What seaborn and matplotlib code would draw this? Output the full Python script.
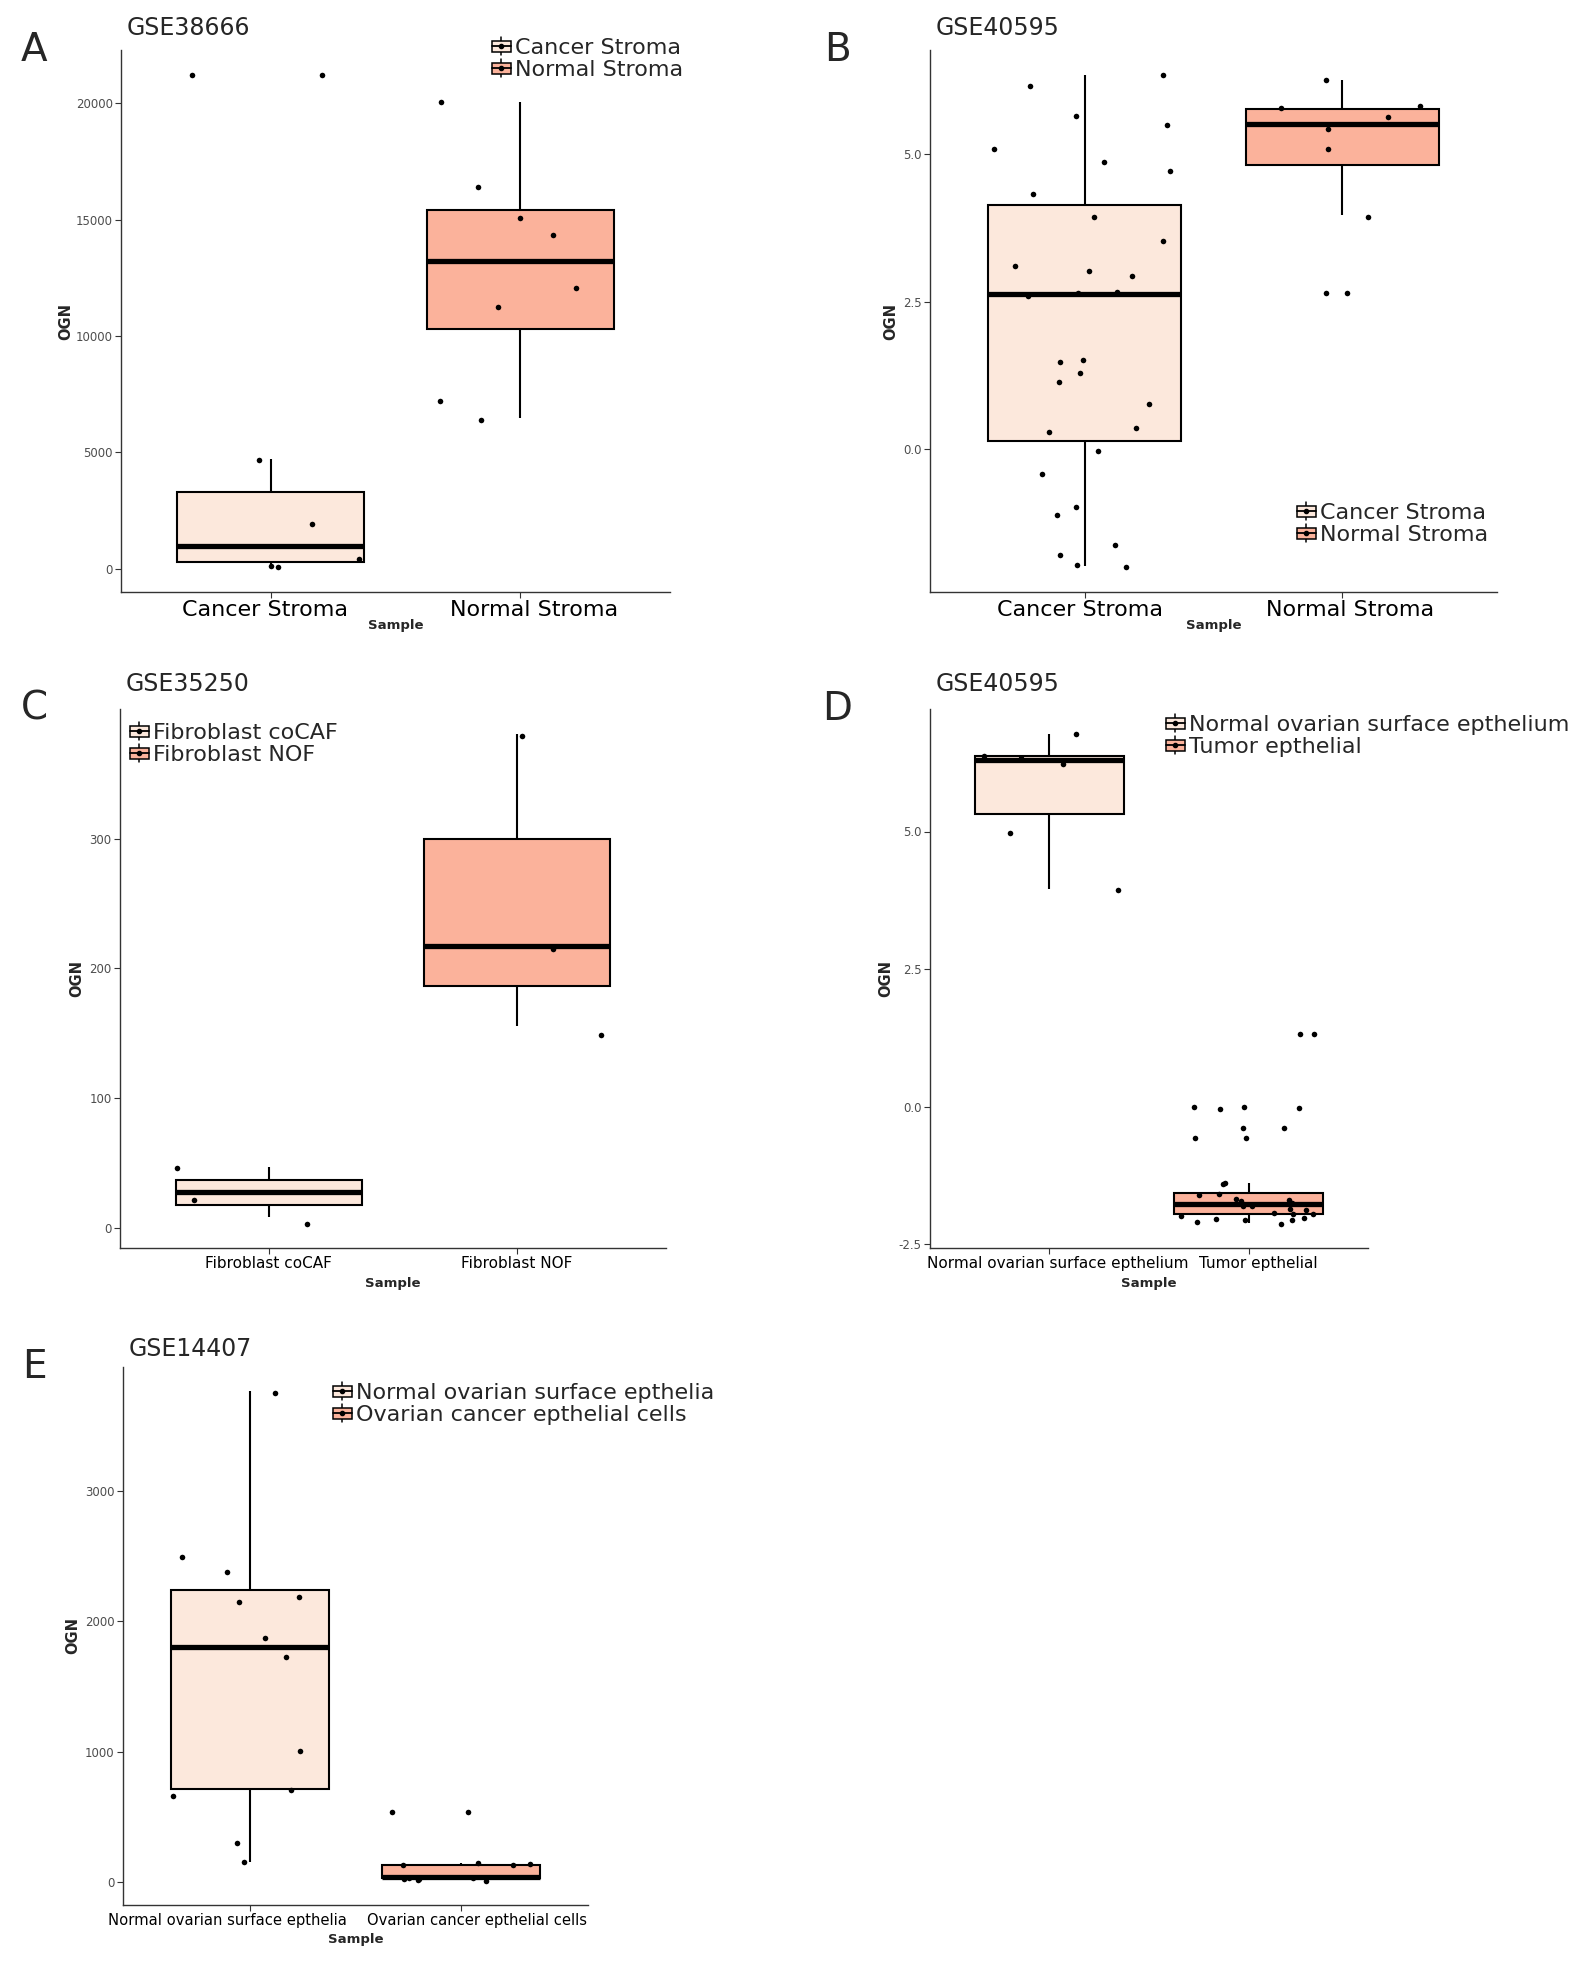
import numpy as np
import pandas as pd
import matplotlib
matplotlib.use("Agg")
import matplotlib.pyplot as plt
import matplotlib.transforms as mtrans
import seaborn as sns
from matplotlib.patches import Patch, Rectangle
from matplotlib.lines import Line2D
from matplotlib.legend_handler import HandlerBase

sns.set_style("white")
plt.rcParams["font.family"] = ["DejaVu Sans"]

# box summaries are (lower whisker, Q1, median, Q3, upper whisker), points are the jittered dots
a_groups = ["Cancer Stroma", "Normal Stroma"]
a_box_1 = [80, 270, 950, 3300, 4700]
a_box_2 = [6470, 10300, 13230, 15410, 20040]
a_pts_1 = [21200, 21230, 4670, 1920, 390, 50, 100]
a_pts_2 = [20040, 16380, 15060, 14330, 12050, 11230, 7220, 6380]

b_groups = ["Cancer Stroma", "Normal Stroma"]
b_box_1 = [-1.99, 0.13, 2.62, 4.13, 6.35]
b_box_2 = [3.96, 4.81, 5.52, 5.76, 6.26]
b_pts_1 = [6.35, 6.15, 5.65, 5.50, 5.08, 4.86, 4.71, 4.32, 3.93, 3.52, 3.10, 3.02,
           2.93, 2.67, 2.65, 2.60, 1.51, 1.48, 1.29, 1.13, 0.76, 0.35, 0.28, -0.04,
           -0.42, -0.99, -1.13, -1.63, -1.80, -1.97, -2.01]
b_pts_2 = [6.26, 5.81, 5.78, 5.63, 5.43, 5.08, 3.94, 2.64, 2.64]

c_groups = ["Fibroblast coCAF", "Fibroblast NOF"]
c_box_1 = [8.7, 17.8, 27.5, 37.2, 46.9]
c_box_2 = [155.3, 186.7, 217.5, 299.7, 380.9]
c_pts_1 = [46.6, 21.4, 3.6]
c_pts_2 = [378.6, 214.6, 148.9]

d_groups = ["Normal ovarian surface epthelium", "Tumor epthelial"]
d_box_1 = [3.95, 5.31, 6.30, 6.37, 6.78]
d_box_2 = [-2.11, -1.94, -1.76, -1.57, -1.38]
d_pts_1 = [6.78, 6.37, 6.34, 6.22, 4.98, 3.94]
d_pts_2 = [1.33, 1.33, 0.0, -0.03, 0.0, -0.04, -0.39, -0.39, -0.57, -0.57, -1.38, -1.41,
           -1.58, -1.60, -1.67, -1.71, -1.70, -1.74, -1.80, -1.80, -1.86, -1.88, -1.93,
           -1.95, -1.95, -1.98, -2.02, -2.03, -2.06, -2.06, -2.12, -2.10]

e_groups = ["Normal ovarian surface epthelia", "Ovarian cancer epthelial cells"]
e_box_1 = [159, 714, 1803, 2244, 3762]
e_box_2 = [22, 32, 44, 130, 152]
e_pts_1 = [3752, 2495, 2381, 2190, 2146, 1870, 1724, 1006, 711, 663, 298, 155]
e_pts_2 = [540, 540, 152, 130, 140, 130, 25, 14, 25, 20, 30, 35]

fills = ["#FCE8DC", "#FBB29B"]

W, H = 1575, 1972
fig = plt.figure(figsize=(W / 100, H / 100), dpi=100)
np.random.seed(7)


class BoxKey(HandlerBase):
    def create_artists(self, legend, orig_handle, xdescent, ydescent,
                       width, height, fontsize, trans):
        cx = -xdescent + width / 2
        cy = -ydescent + height / 2
        bw, bh = width, height * 0.72
        wl = Line2D([cx, cx], [cy - height * 0.58, cy + height * 0.58], color="black",
                    lw=1.1, transform=trans)
        box = Rectangle((cx - bw / 2, cy - bh / 2), bw, bh, facecolor=orig_handle.get_facecolor(),
                        edgecolor="black", lw=1.1, transform=trans)
        med = Line2D([cx - bw / 2, cx + bw / 2], [cy, cy], color="black", lw=1.3, transform=trans)
        dot = Line2D([cx], [cy], marker="o", ms=3, color="black", transform=trans)
        return [wl, box, med, dot]


def panel(letter, title, rect, groups, boxes, points, yticks, fmt, xsize,
          ylab_x, xlab_y, leg_xy, title_y, shifts):
    l, t, r, b = rect
    ax = fig.add_axes([l / W, 1 - b / H, (r - l) / W, (b - t) / H])
    box_df = pd.DataFrame({"Sample": np.repeat(groups, 5), "OGN": np.concatenate(boxes)})
    pt_df = pd.DataFrame({"Sample": np.concatenate([[g] * len(p) for g, p in zip(groups, points)]),
                          "OGN": np.concatenate(points)})
    sns.boxplot(data=box_df, x="Sample", y="OGN", hue="Sample", order=groups, hue_order=groups,
                palette=dict(zip(groups, fills)), saturation=1, width=0.75, whis=(0, 100),
                dodge=False, showcaps=False, showfliers=False, linecolor="black", linewidth=1.5,
                medianprops=dict(linewidth=3.8), legend=False, ax=ax)
    sns.stripplot(data=pt_df, x="Sample", y="OGN", order=groups, color="black", size=4,
                  jitter=0.37, ax=ax, zorder=5)
    allv = np.concatenate(boxes + points)
    lo, hi = allv.min(), allv.max()
    pad = 0.05 * (hi - lo)
    ax.set_ylim(lo - pad, hi + pad)
    ax.set_xlim(-0.6, 1.6)
    ax.set_yticks(yticks)
    ax.set_yticklabels([fmt.format(v) for v in yticks])
    for s in ["top", "right"]:
        ax.spines[s].set_visible(False)
    for s in ["left", "bottom"]:
        ax.spines[s].set_color("#333333")
        ax.spines[s].set_linewidth(1.0)
    ax.tick_params(axis="both", direction="out", length=4, width=0.8, color="#333333",
                   left=True, bottom=True)
    ax.tick_params(axis="y", labelsize=8.5, labelcolor="#4D4D4D", pad=2)
    ax.tick_params(axis="x", labelsize=xsize, labelcolor="black", pad=2)
    for lab, dx in zip(ax.get_xticklabels(), shifts):
        lab.set_transform(lab.get_transform() + mtrans.ScaledTranslation(dx / 100, 0, fig.dpi_scale_trans))
    ax.set_xlabel("Sample", fontsize=9.5, fontweight="bold")
    ax.xaxis.set_label_coords(0.5, (b - xlab_y) / (b - t))
    ax.xaxis.label.set_va("center")
    ax.set_ylabel("OGN", fontsize=10.5, fontweight="bold")
    ax.yaxis.set_label_coords((ylab_x - l) / (r - l), 0.5)
    ax.yaxis.label.set_va("center")
    ax.yaxis.label.set_ha("center")
    handles = [Patch(facecolor=f, edgecolor="black", label=g) for g, f in zip(groups, fills)]
    ax.legend(handles=handles, handler_map={Patch: BoxKey()}, loc="upper left",
              bbox_to_anchor=(leg_xy[0] / W, 1 - leg_xy[1] / H), bbox_transform=fig.transFigure,
              frameon=False, fontsize=16, handlelength=0.85, handleheight=0.7,
              handletextpad=0.2, labelspacing=0.1, borderpad=0, borderaxespad=0)
    fig.text((l + 6) / W, 1 - title_y / H, title, fontsize=17, va="center", ha="left")
    fig.text(34 / W if l < 500 else 837 / W, 1 - t / H, letter, fontsize=28,
             va="center", ha="center")
    return ax


panel("A", "GSE38666", (121, 50, 670, 592), a_groups, [a_box_1, a_box_2], [a_pts_1, a_pts_2],
      [0, 5000, 10000, 15000, 20000], "{:.0f}", 16, 66, 625, (492, 38), 28, (-6, 14))
panel("B", "GSE40595", (930, 50, 1497, 592), b_groups, [b_box_1, b_box_2], [b_pts_1, b_pts_2],
      [0.0, 2.5, 5.0], "{:.1f}", 16, 891, 625, (1297, 503), 28, (-5, 8))
panel("C", "GSE35250", (120, 709, 666, 1248), c_groups, [c_box_1, c_box_2], [c_pts_1, c_pts_2],
      [0, 100, 200, 300], "{:.0f}", 11, 77, 1284, (130, 723), 684, (0, 0))
panel("D", "GSE40595", (930, 709, 1368, 1248), d_groups, [d_box_1, d_box_2], [d_pts_1, d_pts_2],
      [-2.5, 0.0, 2.5, 5.0], "{:.1f}", 11, 886, 1284, (1166, 715), 684, (8, 10))
panel("E", "GSE14407", (123, 1367, 588, 1905), e_groups, [e_box_1, e_box_2], [e_pts_1, e_pts_2],
      [0, 1000, 2000, 3000], "{:.0f}", 10.6, 73, 1940, (333, 1383), 1349, (-22, 16))

fig.savefig("out.png", dpi=100, facecolor="white")
